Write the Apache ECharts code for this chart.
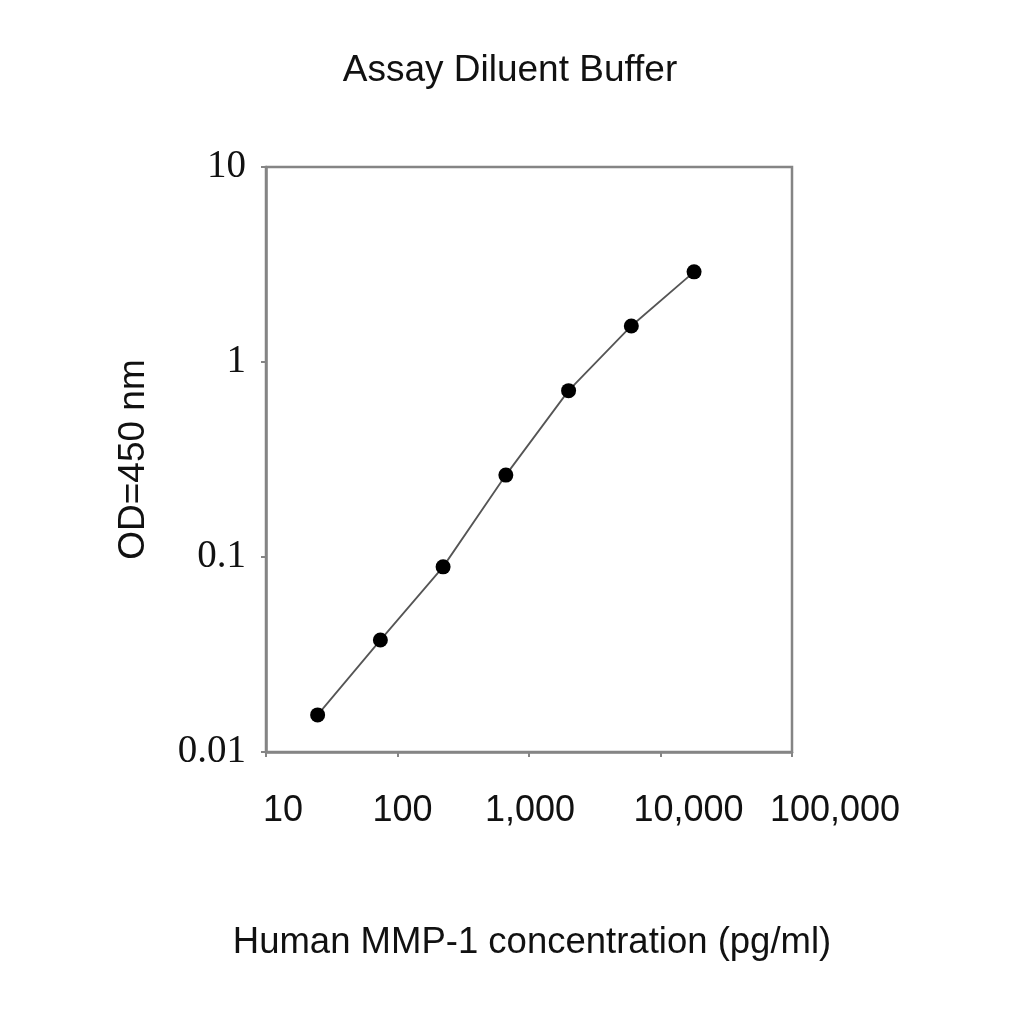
<!DOCTYPE html>
<html>
<head>
<meta charset="utf-8">
<script src="https://cdn.jsdelivr.net/npm/echarts@6/dist/echarts.min.js"></script>
<style>
  html, body { margin: 0; padding: 0; background: #fff; }
  #main { width: 1024px; height: 1024px; }
</style>
</head>
<body>
<div id="main"></div>
<script>
// standard curve, MMP-1 (pg/ml) vs OD 450 nm
var concentration = [24.7, 74.1, 222.2, 666.7, 2000, 6000, 18000];
var odValues = [0.0155, 0.0375, 0.089, 0.263, 0.713, 1.53, 2.90];
var xTickValues = [10, 100, 1000, 10000, 100000];
var xTickLabels = ['10', '100', '1,000', '10,000', '100,000'];
var yTickValues = [0.01, 0.1, 1, 10];
var yTickLabels = ['0.01', '0.1', '1', '10'];

function tickIndex(values, v) {
    for (var i = 0; i < values.length; i++) {
        if (Math.abs(Math.log10(v) - Math.log10(values[i])) < 1e-6) return i;
    }
    return -1;
}

var points = [];
for (var i = 0; i < concentration.length; i++) {
    points.push([concentration[i], odValues[i]]);
}

// the original labels sit a little off their ticks
var xLabelRich = {
    t0: { padding: [0, 0, 0, 34] },
    t1: { padding: [0, 0, 0, 10] },
    t2: { padding: [0, 0, 0, 2] },
    t3: { padding: [0, 0, 0, 56] },
    t4: { padding: [0, 0, 0, 86] }
};

var chart = echarts.init(document.getElementById('main'));
chart.setOption({
    animation: false,
    backgroundColor: '#fff',
    title: {
        text: 'Assay Diluent Buffer',
        left: 505,
        top: 47,
        textAlign: 'center',
        textStyle: {
            fontFamily: 'Liberation Sans',
            fontSize: 37,
            fontWeight: 'normal',
            color: '#111'
        }
    },
    grid: {
        left: 266,
        right: 232,
        top: 167,
        bottom: 272,
        show: true,
        borderColor: '#858585',
        borderWidth: 2.5,
        containLabel: false
    },
    xAxis: {
        type: 'log',
        logBase: 10,
        min: 10,
        max: 100000,
        name: 'Human MMP-1 concentration (pg/ml)',
        nameLocation: 'middle',
        nameGap: 172,
        nameTextStyle: {
            fontFamily: 'Liberation Sans',
            fontSize: 36.5,
            color: '#111',
            padding: [0, 0, 0, 6]
        },
        axisLine: { show: true, lineStyle: { color: '#858585', width: 2.5 } },
        axisTick: { show: true, inside: false, length: 5, lineStyle: { color: '#858585', width: 2 } },
        minorTick: { show: false },
        splitLine: { show: false },
        axisLabel: {
            margin: 41,
            fontFamily: 'Liberation Sans',
            fontSize: 36,
            color: '#111',
            rich: xLabelRich,
            formatter: function (v) {
                var k = tickIndex(xTickValues, v);
                return k < 0 ? '' : '{t' + k + '|' + xTickLabels[k] + '}';
            }
        }
    },
    yAxis: {
        type: 'log',
        logBase: 10,
        min: 0.01,
        max: 10,
        name: 'OD=450 nm',
        nameLocation: 'middle',
        nameGap: 114,
        nameRotate: 90,
        nameTextStyle: {
            fontFamily: 'Liberation Sans',
            fontSize: 37,
            color: '#111'
        },
        axisLine: { show: true, lineStyle: { color: '#858585', width: 2.5 } },
        axisTick: { show: true, inside: false, length: 5, lineStyle: { color: '#858585', width: 2 } },
        minorTick: { show: false },
        splitLine: { show: false },
        axisLabel: {
            margin: 20,
            fontFamily: 'Liberation Serif',
            fontSize: 39,
            color: '#111',
            formatter: function (v) {
                var k = tickIndex(yTickValues, v);
                return k < 0 ? '' : yTickLabels[k];
            }
        }
    },
    series: [{
        type: 'line',
        data: points,
        symbol: 'circle',
        symbolSize: 15,
        itemStyle: { color: '#000' },
        lineStyle: { color: '#555', width: 1.8 },
        silent: true
    }]
});
</script>
</body>
</html>
